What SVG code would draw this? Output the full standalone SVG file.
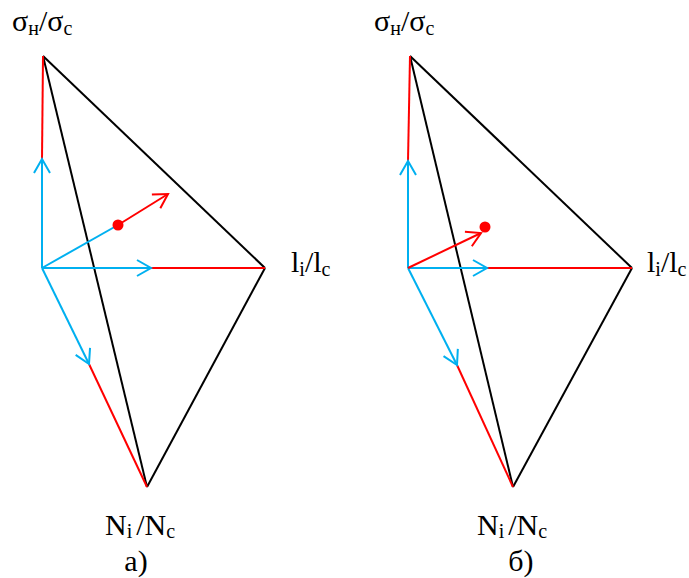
<svg xmlns="http://www.w3.org/2000/svg" width="689" height="578" viewBox="0 0 689 578">
<style>
.k{stroke:#000;stroke-width:2;fill:none}
.r{stroke:#ff0000;stroke-width:2;fill:none}
.b{stroke:#00b0f0;stroke-width:2;fill:none}
.t{font-family:"Liberation Serif","Times New Roman",serif;font-size:30px;fill:#000}
.s{font-size:20px}
</style>
<defs>
<marker id="ab" markerUnits="userSpaceOnUse" markerWidth="20" markerHeight="20" viewBox="-16 -10 20 20" refX="0" refY="0" orient="auto"><path d="M-14,-8 L0,0 L-14,8" fill="none" stroke="#00b0f0" stroke-width="2"/></marker>
<marker id="ar" markerUnits="userSpaceOnUse" markerWidth="20" markerHeight="20" viewBox="-16 -10 20 20" refX="0" refY="0" orient="auto"><path d="M-14,-8 L0,0 L-14,8" fill="none" stroke="#ff0000" stroke-width="2"/></marker>
</defs>
<g id="connectors">
<line class="k" x1="43" y1="56" x2="265" y2="268"/>
<line class="k" x1="43" y1="56" x2="147" y2="487"/>
<line class="k" x1="265" y1="268" x2="147" y2="487"/>
<line class="r" x1="43" y1="56" x2="42" y2="159"/>
<line class="r" x1="151" y1="268" x2="265" y2="268"/>
<line class="r" x1="89" y1="364" x2="147" y2="487"/>
<line class="b" x1="42" y1="268" x2="42" y2="159" marker-end="url(#ab)"/>
<line class="b" x1="42" y1="268" x2="151" y2="268" marker-end="url(#ab)"/>
<line class="b" x1="42" y1="268" x2="89" y2="364" marker-end="url(#ab)"/>
<line class="b" x1="42" y1="268" x2="118" y2="225"/>
<line class="r" x1="118" y1="225" x2="168" y2="194" marker-end="url(#ar)"/>
<circle cx="118" cy="225" r="5.5" fill="#ff0000"/>
<line class="k" x1="410" y1="56" x2="632" y2="268"/>
<line class="k" x1="410" y1="56" x2="513" y2="487"/>
<line class="k" x1="632" y1="268" x2="513" y2="487"/>
<line class="r" x1="410" y1="56" x2="408" y2="161"/>
<line class="r" x1="487" y1="268" x2="632" y2="268"/>
<line class="r" x1="457" y1="365" x2="513" y2="487"/>
<line class="b" x1="408" y1="268" x2="408" y2="161" marker-end="url(#ab)"/>
<line class="b" x1="408" y1="268" x2="487" y2="268" marker-end="url(#ab)"/>
<line class="b" x1="408" y1="268" x2="457" y2="365" marker-end="url(#ab)"/>
<line class="r" x1="408" y1="268" x2="481" y2="233" marker-end="url(#ar)"/>
<circle cx="485" cy="227" r="5.5" fill="#ff0000"/>
</g>
<g id="labels-a">
<text class="t" x="12" y="31">σ<tspan class="s" dy="4">н</tspan><tspan dy="-4">/σ</tspan><tspan class="s" dy="4">c</tspan></text>
<text class="t" x="291" y="272">l<tspan class="s" dy="4">i</tspan><tspan dy="-4">/l</tspan><tspan class="s" dy="4">c</tspan></text>
<text class="t" x="105" y="535">N<tspan class="s" dy="3">i</tspan><tspan dy="-3" dx="4">/N</tspan><tspan class="s" dy="3">c</tspan></text>
<text class="t" x="136" y="571" text-anchor="middle">а)</text>
</g>
<g id="labels-b">
<text class="t" x="374" y="31">σ<tspan class="s" dy="4">н</tspan><tspan dy="-4">/σ</tspan><tspan class="s" dy="4">c</tspan></text>
<text class="t" x="647" y="272">l<tspan class="s" dy="4">i</tspan><tspan dy="-4">/l</tspan><tspan class="s" dy="4">c</tspan></text>
<text class="t" x="477" y="535">N<tspan class="s" dy="3">i</tspan><tspan dy="-3" dx="4">/N</tspan><tspan class="s" dy="3">c</tspan></text>
<text class="t" x="521" y="571" text-anchor="middle">б)</text>
</g>
</svg>
